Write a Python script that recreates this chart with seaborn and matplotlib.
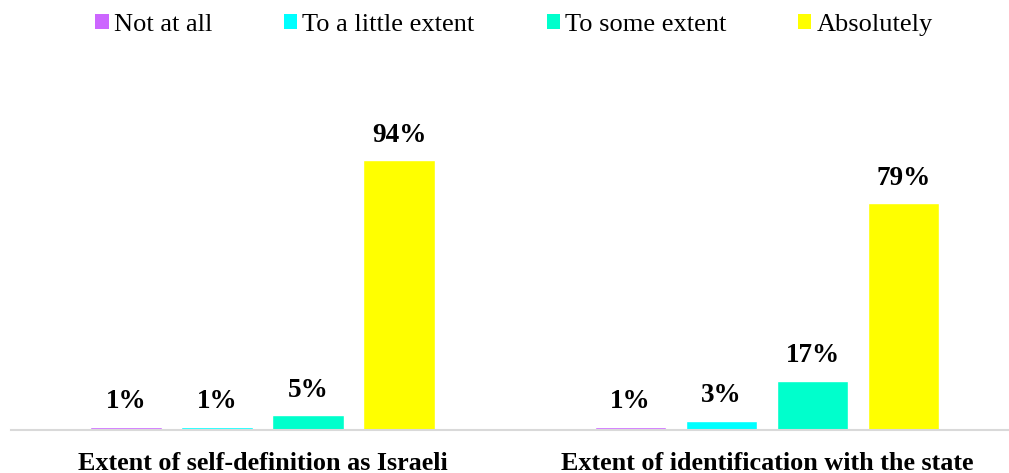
import matplotlib
matplotlib.use("Agg")
import matplotlib.pyplot as plt
from matplotlib.patches import Patch
import pandas as pd
import seaborn as sns

# Survey results (percent of respondents)
questions = ["Extent of self-definition as Israeli", "Extent of identification with the state"]
levels = ["Not at all", "To a little extent", "To some extent", "Absolutely"]
self_definition = [1, 1, 5, 94]
identification = [1, 3, 17, 79]
colors = ["#CC66FF", "#00FFFF", "#00FFCC", "#FFFF00"]

rows = []
for q, vals in zip(questions, [self_definition, identification]):
    for lvl, v in zip(levels, vals):
        rows.append({"question": q, "level": lvl, "pct": v})
df = pd.DataFrame(rows)

sns.set_style("white")
plt.rcParams["font.family"] = ["Liberation Serif", "DejaVu Serif"]
plt.rcParams["text.color"] = "black"
plt.rcParams["xtick.color"] = "black"

W, H = 1009, 473
fig = plt.figure(figsize=(W / 100, H / 100), dpi=100)
ax_bottom_px = 429.5
ax_top_px = 60
ax = fig.add_axes([11 / W, (H - ax_bottom_px) / H, (W - 11) / W, (ax_bottom_px - ax_top_px) / H])

sns.barplot(data=df, x="question", y="pct", hue="level", order=questions,
            hue_order=levels, palette=colors, width=0.7215, gap=0.209,
            errorbar=None, legend=False, ax=ax, saturation=1)

for cont, lvl in zip(ax.containers, levels):
    vals = df[df["level"] == lvl].set_index("question").loc[questions, "pct"].tolist()
    ax.bar_label(cont, labels=[f"{v}%" for v in vals], padding=9,
                 fontsize=19.5, fontweight="bold", color="black")

ax.set_xlim(-0.4985, 1.4797)
ax.set_ylim(0, 128.9)
ax.set_xlabel("")
ax.set_ylabel("")
ax.set_yticks([])
ax.tick_params(axis="x", length=0, pad=16, labelcolor="black")
for lab in ax.get_xticklabels():
    lab.set_fontsize(18.8)
    lab.set_fontweight("bold")
    lab.set_color("black")
for s in ["left", "top", "right"]:
    ax.spines[s].set_visible(False)
ax.spines["bottom"].set_color("#D9D9D9")
ax.spines["bottom"].set_linewidth(1.5)

handles = [Patch(facecolor=c, edgecolor="none", label=l) for c, l in zip(colors, levels)]
leg = fig.legend(handles=handles, loc="center", bbox_to_anchor=(514 / W, 1 - 25 / H),
                 ncol=4, frameon=False, fontsize=19, handlelength=0.5, handleheight=0.5,
                 handletextpad=0.19, columnspacing=2.73, borderpad=0, borderaxespad=0)
for t in leg.get_texts():
    t.set_color("black")

fig.savefig("out.png", dpi=100)
